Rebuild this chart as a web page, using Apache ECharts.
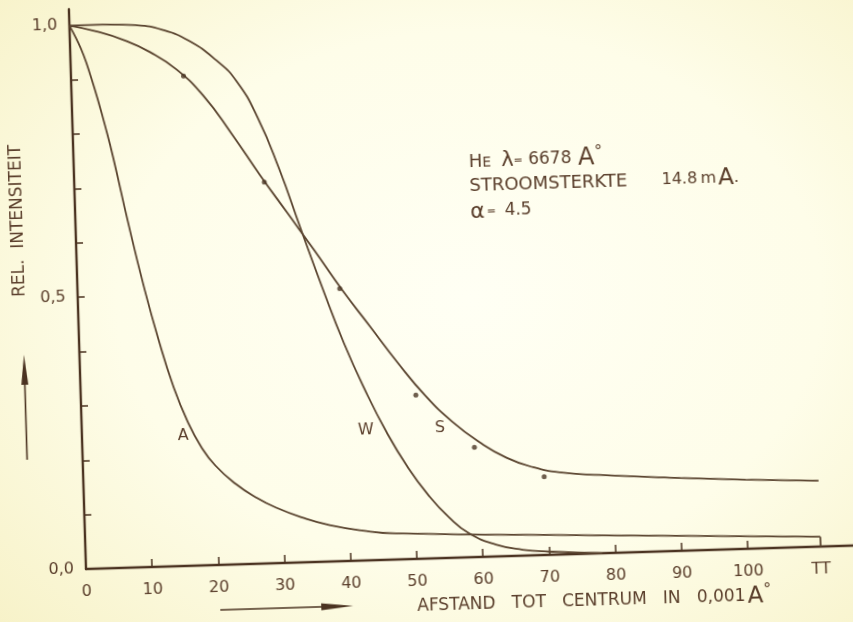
<!DOCTYPE html>
<html>
<head>
<meta charset="utf-8">
<title>He 6678 – relatieve intensiteit</title>
<script src="https://cdn.jsdelivr.net/npm/echarts@6/dist/echarts.min.js"></script>
<style>
  html, body {
    margin: 0; padding: 0;
    width: 853px; height: 622px; overflow: hidden;
    background: radial-gradient(ellipse 75% 78% at 55% 48%, #fffff4 0%, #fefde9 55%, #f7f2c8 100%);
  }
  /* the sheet sits slightly turned, so the whole plot is rotated about the origin */
  #chart {
    position: absolute; left: 0; top: 0;
    width: 900px; height: 700px;
    transform-origin: 86px 569px;
    transform: rotate(-1.75deg);
  }
</style>
</head>
<body>
<div id="chart"></div>
<script>
// ---- data: distance to centre (0.001 Å) vs relative intensity ----
const curveA = [[0,1.0],[1,0.975],[2,0.945],[3,0.905],[4,0.86],[5,0.81],[6,0.755],[8,0.632],[10,0.518],[12,0.418],[14,0.332],[16,0.266],[18,0.217],[20,0.183],[23,0.148],[26,0.122],[29,0.102],[33,0.082],[37,0.067],[42,0.055],[47,0.048],[78,0.033],[111,0.018]];
const curveW = [[0,1.0],[5,1.0],[10,0.997],[14,0.987],[18,0.965],[22,0.928],[25,0.888],[28,0.82],[31,0.725],[34,0.613],[37,0.503],[40,0.40],[43,0.312],[46,0.235],[49,0.17],[52,0.117],[55,0.075],[58,0.044],[62,0.022],[66,0.011],[70,0.006],[78,0.0]];
const curveS = [[0,1.0],[4,0.988],[8,0.971],[12,0.947],[16,0.913],[20,0.862],[24,0.792],[28,0.716],[32,0.644],[36,0.572],[40,0.498],[44,0.43],[48,0.362],[52,0.300],[56,0.250],[60,0.211],[64,0.181],[68,0.162],[72,0.151],[78,0.144],[90,0.134],[100,0.127],[111,0.121]];
const measuredS = [[17,0.901],[28.7,0.701],[39.6,0.501],[50.6,0.301],[59.2,0.202],[69.6,0.144]];

// curve names and where they are written
const curveNames = ['A', 'W', 'S'];
const curveNameAt = [[15.3,0.239],[42.9,0.24],[54.1,0.239]];

// axis ticks and labels
const xTickValues = [10,20,30,40,50,60,70,80,90,100];
const xLabelValues = [0,10,20,30,40,50,60,70,80,90,100,111];
const xEndValue = 111;
const xEndLabel = 'TT';
const yTickValues = [0.1,0.2,0.3,0.4,0.5,0.6,0.7,0.8,0.9,1.0];
const yLabelValues = [0,0.5,1.0];

// ---- styling ----
const INK = '#5b4530';
const AXIS = '#4b3321';
const TEXT = '#5a3e2b';
const FONT = '"DejaVu Sans", "Liberation Sans", sans-serif';

const chart = echarts.init(document.getElementById('chart'), null, { renderer: 'canvas' });

function curveSeries(name, data, labelPos) {
  return {
    name: name,
    type: 'line',
    data: data,
    smooth: 0.5,
    showSymbol: false,
    symbol: 'none',
    lineStyle: { color: INK, width: 1.8 },
    z: 3,
    markPoint: {
      symbol: 'circle',
      symbolSize: 0,
      silent: true,
      label: { show: true, position: 'inside', formatter: name, color: TEXT, fontFamily: FONT, fontSize: 16 },
      data: [{ coord: labelPos }]
    }
  };
}

const aEnd = curveA[curveA.length - 1];
const seriesA = curveSeries(curveNames[0], curveA, curveNameAt[0]);
seriesA.markLine = {
  silent: true,
  symbol: 'none',
  label: { show: false },
  lineStyle: { color: INK, width: 1.8, type: 'solid' },
  data: [[{ coord: [aEnd[0], aEnd[1]] }, { coord: [aEnd[0], 0] }]]
};

const option = {
  animation: false,
  backgroundColor: 'transparent',
  grid: { left: 86, right: 46, top: 9, bottom: 131, containLabel: false },
  xAxis: {
    type: 'value',
    min: 0, max: 116,
    axisLine: { show: true, onZero: false, lineStyle: { color: AXIS, width: 2.4 } },
    axisTick: { show: true, inside: true, length: 8, customValues: xTickValues, lineStyle: { color: AXIS, width: 1.5 } },
    axisLabel: {
      show: true, customValues: xLabelValues, margin: 15,
      color: TEXT, fontFamily: FONT, fontSize: 16,
      formatter: v => (v === xEndValue ? xEndLabel : String(v))
    },
    splitLine: { show: false }
  },
  yAxis: {
    type: 'value',
    min: 0, max: 1.03,
    axisLine: { show: true, onZero: false, lineStyle: { color: AXIS, width: 2.4 } },
    axisTick: { show: true, inside: true, length: 7, customValues: yTickValues, lineStyle: { color: AXIS, width: 1.5 } },
    axisLabel: {
      show: true, customValues: yLabelValues, margin: 12,
      color: TEXT, fontFamily: FONT, fontSize: 16,
      formatter: v => v.toFixed(1).replace('.', ',')
    },
    splitLine: { show: false }
  },
  series: [
    seriesA,
    curveSeries(curveNames[1], curveW, curveNameAt[1]),
    curveSeries(curveNames[2], curveS, curveNameAt[2]),
    {
      name: 'S meetpunten',
      type: 'scatter',
      data: measuredS,
      symbol: 'circle',
      symbolSize: 5,
      itemStyle: { color: '#4a3624' },
      z: 4
    }
  ],
  graphic: [
    // vertical axis title
    {
      type: 'text', x: 29, y: 219, rotation: Math.PI / 2,
      style: { text: 'REL.  INTENSITEIT', fill: TEXT, font: '17px ' + FONT, align: 'center', verticalAlign: 'middle' }
    },
    // upward arrow
    { type: 'line', shape: { x1: 30.5, y1: 458, x2: 30.5, y2: 378 }, style: { stroke: AXIS, lineWidth: 1.6 } },
    { type: 'polygon', shape: { points: [[30.5, 353], [27, 383], [34, 383]] }, style: { fill: AXIS } },
    // horizontal axis title
    {
      type: 'text', x: 416, y: 617,
      style: {
        text: '{t|AFSTAND   TOT   CENTRUM   IN   0,001}{a|A}{d|°}',
        verticalAlign: 'middle', align: 'left',
        rich: {
          t: { fill: TEXT, font: '17px ' + FONT },
          a: { fill: TEXT, font: '23px ' + FONT, padding: [0, 0, 0, 2] },
          d: { fill: TEXT, font: '16px ' + FONT, padding: [0, 0, 12, 0] }
        }
      }
    },
    // rightward arrow
    { type: 'line', shape: { x1: 219, y1: 614, x2: 324, y2: 614 }, style: { stroke: AXIS, lineWidth: 1.6 } },
    { type: 'polygon', shape: { points: [[352, 614], [320, 610.5], [320, 617.5]] }, style: { fill: AXIS } },
    // measurement conditions
    {
      type: 'text', x: 481, y: 174,
      style: {
        text: '{h|H}{e|E}   {g|λ}{q|=}{sp| }{n|6678}  {a|A}{d|°}',
        verticalAlign: 'middle', align: 'left',
        rich: {
          h: { fill: TEXT, font: '18px ' + FONT },
          e: { fill: TEXT, font: '14px ' + FONT, padding: [2, 0, 0, 0] },
          g: { fill: TEXT, font: '21px ' + FONT },
          q: { fill: TEXT, font: '11px ' + FONT },
          sp: { fill: TEXT, font: '17px ' + FONT },
          n: { fill: TEXT, font: '17px ' + FONT },
          a: { fill: TEXT, font: '24px ' + FONT },
          d: { fill: TEXT, font: '16px ' + FONT, padding: [0, 0, 12, 0] }
        }
      }
    },
    {
      type: 'text', x: 481, y: 198,
      style: {
        text: '{s|STROOMSTERKTE}{g|      }{n|14.8} {m|m}{sp| }{a|A}{n|.}',
        verticalAlign: 'middle', align: 'left',
        rich: {
          s: { fill: TEXT, font: '18px ' + FONT },
          g: { fill: TEXT, font: '18px ' + FONT },
          n: { fill: TEXT, font: '16px ' + FONT },
          m: { fill: TEXT, font: '16px ' + FONT },
          sp: { fill: TEXT, font: '6px ' + FONT },
          a: { fill: TEXT, font: '23px ' + FONT }
        }
      }
    },
    {
      type: 'text', x: 481, y: 224,
      style: {
        text: '{g|α}{q|=}  {n|4.5}',
        verticalAlign: 'middle', align: 'left',
        rich: {
          g: { fill: TEXT, font: '22px ' + FONT },
          q: { fill: TEXT, font: '11px ' + FONT, padding: [0, 2, 0, 2] },
          n: { fill: TEXT, font: '17px ' + FONT }
        }
      }
    }
  ]
};

chart.setOption(option);
</script>
</body>
</html>
